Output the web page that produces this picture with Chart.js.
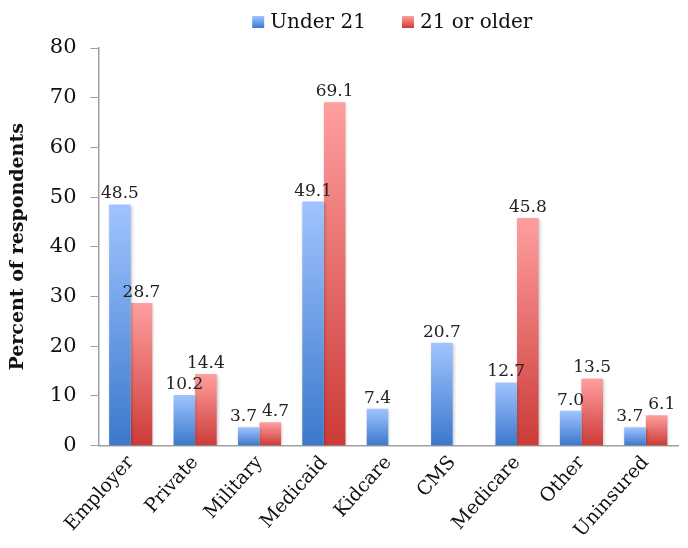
<!DOCTYPE html>
<html>
<head>
<meta charset="utf-8">
<script src="https://cdn.jsdelivr.net/npm/chart.js@4.4.0/dist/chart.umd.min.js"></script>
<style>
  html, body { margin: 0; padding: 0; background: #fff; }
  #chart { display: block; }
</style>
</head>
<body>
<canvas id="chart" width="688" height="548"></canvas>
<script>
// insurance categories and percentages per age group
const categories = ["Employer", "Private", "Military", "Medicaid", "Kidcare", "CMS", "Medicare", "Other", "Uninsured"];
const under21 = [48.5, 10.2, 3.7, 49.1, 7.4, 20.7, 12.7, 7.0, 3.7];
const older21 = [28.7, 14.4, 4.7, 69.1, null, null, 45.8, 13.5, 6.1];
const yTicks = [0, 10, 20, 30, 40, 50, 60, 70, 80];
const seriesNames = ["Under 21", "21 or older"];

const FONT = "'DejaVu Serif', 'Liberation Serif', serif";
const BLUE = ['#a0c4ff', '#3b78cc'];
const RED = ['#ff9f9f', '#cc3b38'];

// vertical gradient per bar, light at the top, dark at the base
function barFill(light, dark) {
    return function(ctx) {
        const chart = ctx.chart;
        const v = ctx.raw;
        if (!chart.chartArea || v == null || ctx.type !== 'data') return dark;
        const y = chart.scales.y;
        const top = y.getPixelForValue(v);
        const bot = y.getPixelForValue(0);
        if (!isFinite(top) || bot - top < 1) return dark;
        const g = chart.ctx.createLinearGradient(0, top, 0, bot);
        g.addColorStop(0, light);
        g.addColorStop(1, dark);
        return g;
    };
}

// value labels above bars, nudged apart when a pair would collide
const valueLabels = {
    id: 'valueLabels',
    afterDatasetsDraw(chart) {
        const ctx = chart.ctx;
        ctx.save();
        ctx.font = "17px " + FONT;
        ctx.fillStyle = '#222';
        ctx.textAlign = 'center';
        ctx.textBaseline = 'bottom';
        const a = chart.getDatasetMeta(0).data;
        const b = chart.getDatasetMeta(1).data;
        categories.forEach((c, j) => {
            const items = [];
            [a[j], b[j]].forEach((bar, i) => {
                const v = chart.data.datasets[i].data[j];
                if (v == null || !bar) return;
                const t = v.toFixed(1);
                items.push({ t, x: bar.x, y: bar.y - 2, w: ctx.measureText(t).width });
            });
            if (items.length === 2 && Math.abs(items[0].y - items[1].y) < 17) {
                const overlap = (items[0].w + items[1].w) / 2 + 5 - (items[1].x - items[0].x);
                if (overlap > 0) {
                    items[0].x -= overlap / 2;
                    items[1].x += overlap / 2;
                }
            }
            items.forEach(it => ctx.fillText(it.t, it.x, it.y));
        });
        ctx.restore();
    }
};

// soft shadow behind the bars
const barShadow = {
    id: 'barShadow',
    beforeDatasetsDraw(chart) {
        const ctx = chart.ctx;
        ctx.save();
        ctx.shadowColor = 'rgba(0,0,0,0.25)';
        ctx.shadowBlur = 3;
        ctx.shadowOffsetX = 1;
        ctx.shadowOffsetY = 1;
    },
    afterDatasetsDraw(chart) {
        chart.ctx.restore();
    }
};

// legend row above the plot, centred on the chart area
const topLegend = {
    id: 'topLegend',
    afterDraw(chart) {
        const ctx = chart.ctx;
        const ca = chart.chartArea;
        const box = 12, gapText = 6, gapItem = 36;
        ctx.save();
        ctx.font = "20px " + FONT;
        ctx.textBaseline = 'middle';
        const widths = seriesNames.map(t => ctx.measureText(t).width);
        const total = widths.reduce((a, w) => a + box + gapText + w, 0) + gapItem;
        let x = (ca.left + ca.right) / 2 + 4 - total / 2;
        const yc = 22;
        [BLUE, RED].forEach((c, i) => {
            const g = ctx.createLinearGradient(0, yc - box / 2, 0, yc + box / 2);
            g.addColorStop(0, c[0]);
            g.addColorStop(1, c[1]);
            ctx.fillStyle = g;
            ctx.fillRect(x, yc - box / 2, box, box);
            x += box + gapText;
            ctx.fillStyle = '#111';
            ctx.fillText(seriesNames[i], x, yc + 1);
            x += widths[i] + gapItem;
        });
        ctx.restore();
    }
};

new Chart(document.getElementById('chart'), {
    type: 'bar',
    data: {
        labels: categories,
        datasets: [{
            label: seriesNames[0],
            data: under21,
            backgroundColor: barFill(BLUE[0], BLUE[1]),
            borderWidth: 0
        }, {
            label: seriesNames[1],
            data: older21,
            backgroundColor: barFill(RED[0], RED[1]),
            borderWidth: 0
        }]
    },
    options: {
        responsive: false,
        animation: false,
        layout: { padding: { top: 48, right: 10, left: 7, bottom: 0 } },
        datasets: {
            bar: { barPercentage: 1.0, categoryPercentage: 0.67 }
        },
        scales: {
            x: {
                grid: { display: false, drawTicks: false },
                border: { color: '#a0a0a0', width: 1.5 },
                ticks: {
                    color: '#111',
                    font: { family: FONT, size: 19 },
                    maxRotation: 48,
                    minRotation: 48,
                    padding: 6,
                    autoSkip: false
                }
            },
            y: {
                min: 0,
                max: 80,
                afterBuildTicks: axis => { axis.ticks = yTicks.map(v => ({ value: v })); },
                grid: { display: true, drawOnChartArea: false, drawTicks: true, tickLength: 8, color: '#a0a0a0' },
                border: { color: '#a0a0a0', width: 1.5 },
                ticks: {
                    color: '#111',
                    font: { family: FONT, size: 21 },
                    padding: 14
                },
                title: {
                    display: true,
                    text: 'Percent of respondents',
                    color: '#111',
                    font: { family: FONT, size: 19, weight: 'bold' },
                    padding: { top: 0, bottom: 6 }
                }
            }
        },
        plugins: {
            legend: { display: false },
            tooltip: { enabled: false }
        }
    },
    plugins: [barShadow, valueLabels, topLegend]
});
</script>
</body>
</html>
